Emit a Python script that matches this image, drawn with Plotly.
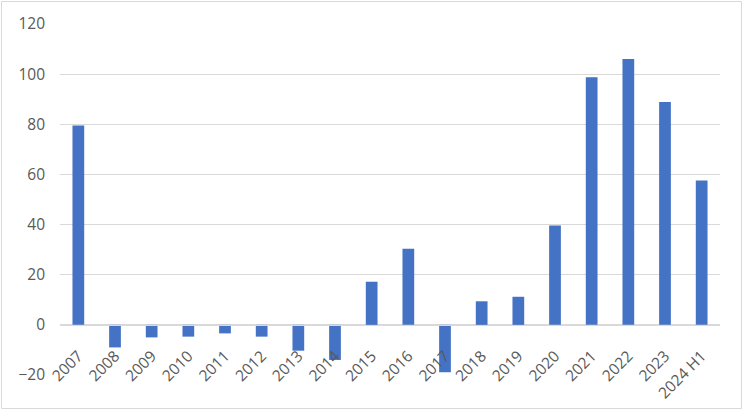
import plotly.graph_objects as go

categories = ["2007", "2008", "2009", "2010", "2011", "2012", "2013", "2014", "2015",
              "2016", "2017", "2018", "2019", "2020", "2021", "2022", "2023", "2024 H1"]
values = [79.5, -9.0, -5.0, -4.7, -3.4, -4.7, -10.3, -14.0, 17.2,
          30.4, -18.9, 9.4, 11.2, 39.6, 98.8, 106.0, 88.9, 57.6]
y_ticks = [-20, 0, 20, 40, 60, 80, 100, 120]

ymin, ymax = -20, 120
W, H = 744, 411
ml, mr, mt, mb = 60, 24, 24, 36

fig = go.Figure(go.Bar(x=categories, y=values, marker_color="#4472C4",
                       marker_line_width=0))

font = dict(family="Open Sans, Liberation Sans, sans-serif", size=15.5, color="#595959")
fig.update_layout(
    width=W, height=H,
    margin=dict(l=ml, r=mr, t=mt, b=mb, autoexpand=False),
    paper_bgcolor="white", plot_bgcolor="white",
    bargap=0.68,
    showlegend=False,
    font=font,
    xaxis=dict(type="category", anchor="free", automargin=False,
               position=(0 - ymin) / (ymax - ymin),
               tickangle=-45, showgrid=False, showline=True,
               linecolor="#d9d9d9", linewidth=1, ticks="",
               ticklabelstandoff=15, tickfont=font),
    yaxis=dict(range=[ymin, ymax], tickvals=y_ticks, showgrid=True, automargin=False,
               gridcolor="#d9d9d9", gridwidth=1, zeroline=True,
               zerolinecolor="#d9d9d9", zerolinewidth=1, showline=False,
               ticks="", ticklabelstandoff=14, tickfont=font),
)

pw, ph = W - ml - mr, H - mt - mb
fig.add_shape(type="rect", xref="paper", yref="paper",
              x0=-(ml - 1.5) / pw, x1=1 + (mr - 2.5) / pw,
              y0=-(mb - 2.5) / ph, y1=1 + (mt - 1.5) / ph,
              line=dict(color="#d9d9d9", width=1), fillcolor="rgba(0,0,0,0)",
              layer="below")

fig.write_html("out.html", config={"displayModeBar": False},
               post_script="document.body.style.margin='0';document.body.style.overflow='hidden';")
